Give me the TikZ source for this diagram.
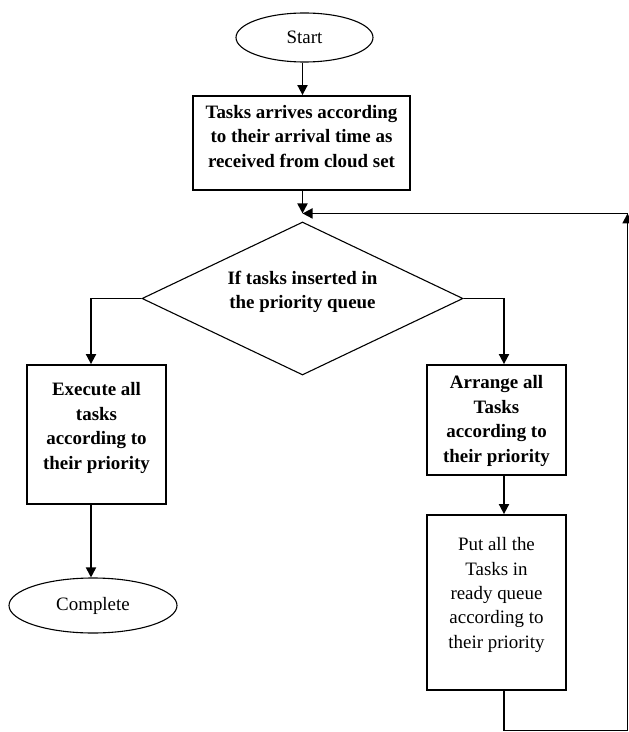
\documentclass[tikz,border=0pt]{standalone}
\usepackage{fontspec}
\setmainfont{Liberation Serif}
\usetikzlibrary{shapes.geometric,arrows.meta}

\begin{document}
\begin{tikzpicture}[x=1bp,y=-1bp,
  every node/.style={font=\fontsize{19}{24.5}\selectfont, align=center, inner sep=0pt},
  flowline/.style={line width=1.8bp, draw=black},
  arrow/.style={flowline, -{Triangle[length=10bp,width=10bp]}},
  terminal/.style={ellipse, draw, line width=1.1bp},
  procbox/.style={rectangle, draw, line width=1.8bp},
  decision/.style={diamond, draw, line width=1.1bp},
  boldtext/.style={font=\fontsize{19}{24.5}\selectfont\bfseries},
  plaintext/.style={}
]
\useasboundingbox (0,0) rectangle (629,732);

% terminals
\node[terminal, minimum width=137bp, minimum height=49bp] (start) at (304.5,37.5) {Start};
\node[terminal, minimum width=168bp, minimum height=55bp] (done) at (93,605.5) {Complete};

% process boxes
\node[procbox, minimum width=217bp, minimum height=94bp] (task) at (301.5,143) {};
\node[boldtext] (tasktext) at (301.5,136.5) {Tasks arrives according\\to their arrival time as\\received from cloud set};

\node[procbox, minimum width=139bp, minimum height=139bp] (exec) at (96.5,434.5) {};
\node[boldtext] (exectext) at (96.5,428) {Execute all\\tasks\\according to\\their priority};

\node[procbox, minimum width=139bp, minimum height=110bp] (arr) at (496.5,420) {};
\node[boldtext] (arrtext) at (496.5,421) {Arrange all\\Tasks\\according to\\their priority};

\node[procbox, minimum width=139bp, minimum height=175bp] (put) at (496.5,602.5) {};
\node[plaintext] (puttext) at (496.5,595) {Put all the\\Tasks in\\ready queue\\according to\\their priority};

% decision
\node[decision, minimum width=321bp, minimum height=153bp] (dia) at (302.5,298.5) {};
\node[boldtext] (diatext) at (302.5,292) {If tasks inserted in\\the priority queue};

% junction above the decision and the return loop corners
\coordinate (join) at ([yshift=8bp]dia.north);
\coordinate (loopfoot) at (627.5,730.5);
\coordinate (loophead) at (627.5,214);

% connectors
\draw[arrow] (start.south -| join) -- (task.north -| join);
\draw[arrow] (task.south -| join) -- (join);
\draw[arrow] (dia.west) -| ([xshift=-5.5bp]exec.north);
\draw[arrow] ([xshift=-5.5bp]exec.south) -- ([xshift=-5.5bp]exec.south |- done.north);
\draw[arrow] (dia.east) -| ([xshift=7.5bp]arr.north);
\draw[arrow] ([xshift=7.5bp]arr.south) -- ([xshift=7.5bp]put.north);
\draw[arrow] ([xshift=7.5bp]put.south) |- (loopfoot) -- (loophead |- join);
\draw[arrow] (loophead |- join) -- (join);
\end{tikzpicture}
\end{document}
